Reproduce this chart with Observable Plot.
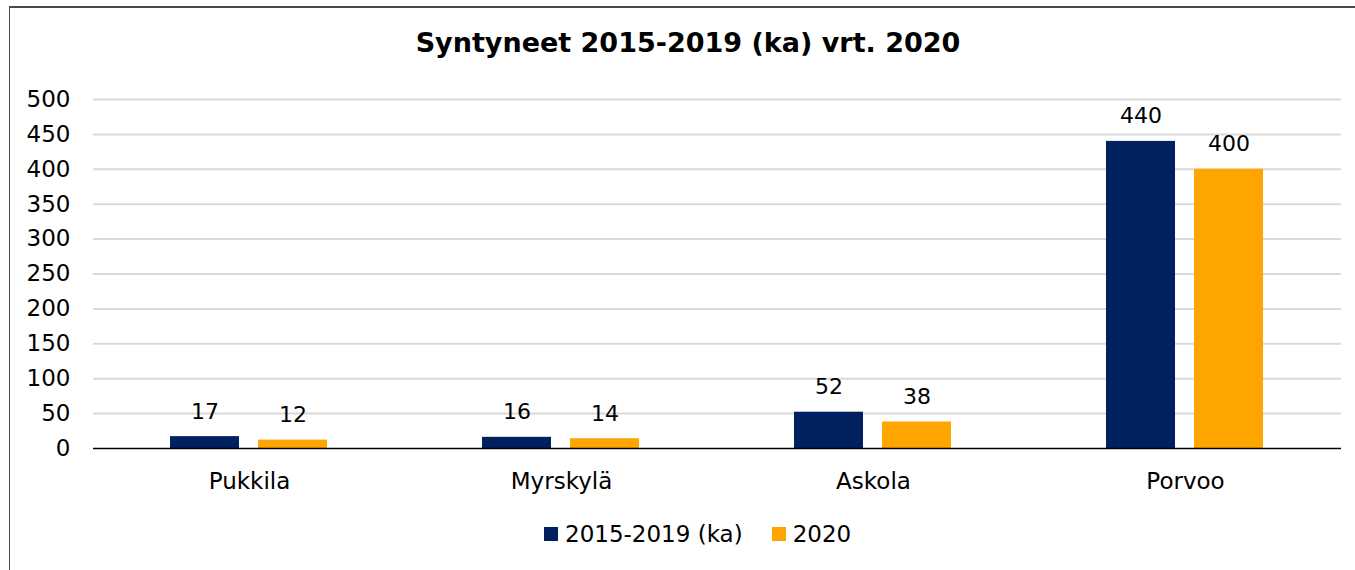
<!DOCTYPE html>
<html>
<head>
<meta charset="utf-8">
<script src="https://cdn.jsdelivr.net/npm/d3@7"></script>
<script src="https://cdn.jsdelivr.net/npm/@observablehq/plot@0.6"></script>
<style>
  html, body { margin: 0; padding: 0; background: #fff; }
  #wrap { position: relative; width: 1355px; height: 570px; overflow: hidden; font-family: "DejaVu Sans", sans-serif; }
  #frame { position: absolute; left: 9px; top: 6px; width: 1400px; height: 600px; border-top: 2px solid #4a4a4a; border-left: 1px solid #4a4a4a; }
  #title { position: absolute; top: 27px; left: 688px; transform: translateX(-50%); font-weight: bold; font-size: 27px; white-space: nowrap; color: #000; }
  #chart { position: absolute; left: 0; top: 0; }
  #legend { position: absolute; top: 521px; left: 544px; display: flex; align-items: center; font-size: 23px; color: #000; white-space: nowrap; }
  .sw { width: 14px; height: 14px; display: inline-block; margin-right: 7px; }
</style>
</head>
<body>
<div id="wrap">
  <div id="frame"></div>
  <div id="chart"></div>
  <div id="title"></div>
  <div id="legend"></div>
</div>
<script>
const title = "Syntyneet 2015-2019 (ka) vrt. 2020";
const categories = ["Pukkila", "Myrskylä", "Askola", "Porvoo"];
const series = ["2015-2019 (ka)", "2020"];
const avg2015_2019 = [17, 16, 52, 440];
const values2020 = [12, 14, 38, 400];
const yTicks = [0, 50, 100, 150, 200, 250, 300, 350, 400, 450, 500];
const colors = ["#002060", "#FFA500"];

const data = categories.flatMap((c, i) => [
  {category: c, series: series[0], value: avg2015_2019[i]},
  {category: c, series: series[1], value: values2020[i]}
]);

document.getElementById("title").textContent = title;

const chart = Plot.plot({
  width: 1355,
  height: 500,
  marginLeft: 92,
  marginRight: 14,
  marginTop: 99,
  marginBottom: 52,
  style: {fontFamily: "DejaVu Sans, sans-serif", fontSize: "23px", color: "#000", background: "transparent", overflow: "visible"},
  fx: {domain: categories, padding: 0, label: null, axis: "bottom", tickSize: 0, tickPadding: 24},
  x: {domain: series, paddingInner: 0.2135, paddingOuter: 0.865, axis: null},
  y: {domain: [0, 500], ticks: yTicks, tickSize: 0, tickPadding: 23, label: null, tickFormat: d => String(d)},
  color: {domain: series, range: colors},
  marks: [
    Plot.gridY(yTicks.filter(t => t > 0), {stroke: "#d9d9d9", strokeOpacity: 1, strokeWidth: 2}),
    Plot.barY(data, {fx: "category", x: "series", y: "value", fill: "series"}),
    Plot.ruleY([0], {stroke: "#000", strokeWidth: 1.5}),
    Plot.text(data, {fx: "category", x: "series", y: "value", text: d => String(d.value), dy: -25, fontSize: 22, fill: "#000"})
  ]
});
document.getElementById("chart").appendChild(chart);

const legend = document.getElementById("legend");
series.forEach((s, i) => {
  const item = document.createElement("span");
  item.style.display = "inline-flex";
  item.style.alignItems = "center";
  item.style.marginRight = i === 0 ? "29px" : "0";
  const sw = document.createElement("span");
  sw.className = "sw";
  sw.style.background = colors[i];
  const tx = document.createElement("span");
  tx.textContent = s;
  item.appendChild(sw);
  item.appendChild(tx);
  legend.appendChild(item);
});
</script>
</body>
</html>
